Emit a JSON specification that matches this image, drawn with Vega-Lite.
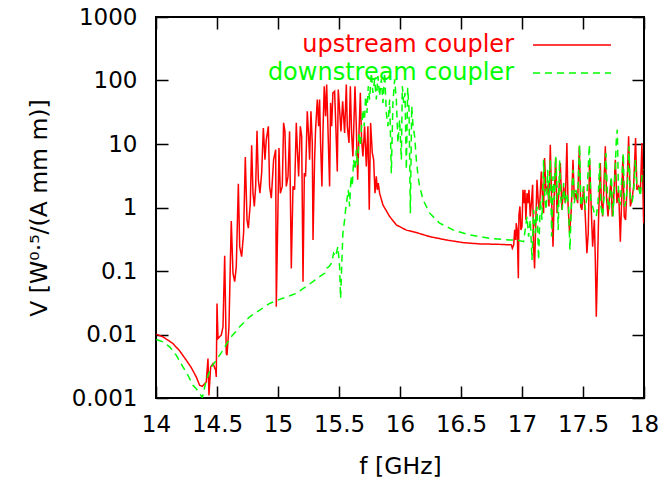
{
  "$schema": "https://vega.github.io/schema/vega-lite/v6.json",
  "width": 488,
  "height": 381,
  "autosize": "none",
  "padding": {"left": 156, "top": 17, "right": 24, "bottom": 85},
  "config": {
    "view": {"stroke": "black", "strokeWidth": 2},
    "axis": {"domain": false, "ticks": false, "tickSize": 0, "grid": true, "gridColor": "black", "gridOpacity": 1, "gridWidth": 1.5, "labelFont": "DejaVu Sans", "labelFontSize": 23, "labelColor": "black", "titleFont": "DejaVu Sans", "titleFontSize": 23.5, "titleFontWeight": "normal", "titleColor": "black", "labelOverlap": false, "labelFlush": false, "labelBound": false}
  },
  "data": {
    "values": [
      {"f":14.003,"V":0.0101,"s":"upstream coupler"},{"f":14.057,"V":0.00918,"s":"upstream coupler"},{"f":14.139,"V":0.00721,"s":"upstream coupler"},{"f":14.194,"V":0.00552,"s":"upstream coupler"},{"f":14.248,"V":0.00394,"s":"upstream coupler"},{"f":14.289,"V":0.00301,"s":"upstream coupler"},{"f":14.330,"V":0.00215,"s":"upstream coupler"},{"f":14.358,"V":0.00158,"s":"upstream coupler"},{"f":14.380,"V":0.00153,"s":"upstream coupler"},{"f":14.412,"V":0.00179,"s":"upstream coupler"},{"f":14.426,"V":0.00418,"s":"upstream coupler"},{"f":14.434,"V":0.0011,"s":"upstream coupler"},{"f":14.448,"V":0.00308,"s":"upstream coupler"},{"f":14.467,"V":0.00348,"s":"upstream coupler"},{"f":14.489,"V":0.00274,"s":"upstream coupler"},{"f":14.494,"V":0.00215,"s":"upstream coupler"},{"f":14.500,"V":0.0308,"s":"upstream coupler"},{"f":14.508,"V":0.00865,"s":"upstream coupler"},{"f":14.535,"V":0.00976,"s":"upstream coupler"},{"f":14.549,"V":0.0132,"s":"upstream coupler"},{"f":14.563,"V":0.173,"s":"upstream coupler"},{"f":14.576,"V":0.00501,"s":"upstream coupler"},{"f":14.582,"V":0.00472,"s":"upstream coupler"},{"f":14.598,"V":0.0132,"s":"upstream coupler"},{"f":14.617,"V":0.615,"s":"upstream coupler"},{"f":14.631,"V":0.0918,"s":"upstream coupler"},{"f":14.645,"V":0.0679,"s":"upstream coupler"},{"f":14.658,"V":0.117,"s":"upstream coupler"},{"f":14.675,"V":2.36,"s":"upstream coupler"},{"f":14.686,"V":0.242,"s":"upstream coupler"},{"f":14.702,"V":0.168,"s":"upstream coupler"},{"f":14.718,"V":0.394,"s":"upstream coupler"},{"f":14.732,"V":6.24,"s":"upstream coupler"},{"f":14.746,"V":0.639,"s":"upstream coupler"},{"f":14.757,"V":0.472,"s":"upstream coupler"},{"f":14.773,"V":1.17,"s":"upstream coupler"},{"f":14.784,"V":9.53,"s":"upstream coupler"},{"f":14.795,"V":1.68,"s":"upstream coupler"},{"f":14.806,"V":1.04,"s":"upstream coupler"},{"f":14.817,"V":2.15,"s":"upstream coupler"},{"f":14.828,"V":16.2,"s":"upstream coupler"},{"f":14.839,"V":2.73,"s":"upstream coupler"},{"f":14.852,"V":1.68,"s":"upstream coupler"},{"f":14.866,"V":3.48,"s":"upstream coupler"},{"f":14.880,"V":17.9,"s":"upstream coupler"},{"f":14.893,"V":5.66,"s":"upstream coupler"},{"f":14.904,"V":11.7,"s":"upstream coupler"},{"f":14.921,"V":19.0,"s":"upstream coupler"},{"f":14.931,"V":2.15,"s":"upstream coupler"},{"f":14.945,"V":1.40,"s":"upstream coupler"},{"f":14.964,"V":5.66,"s":"upstream coupler"},{"f":14.981,"V":8.14,"s":"upstream coupler"},{"f":14.986,"V":0.0274,"s":"upstream coupler"},
      {"f":15.008,"V":8.65,"s":"upstream coupler"},{"f":15.019,"V":1.68,"s":"upstream coupler"},{"f":15.035,"V":2.15,"s":"upstream coupler"},{"f":15.046,"V":21.5,"s":"upstream coupler"},{"f":15.057,"V":15.8,"s":"upstream coupler"},{"f":15.068,"V":2.15,"s":"upstream coupler"},{"f":15.082,"V":3.09,"s":"upstream coupler"},{"f":15.095,"V":15.8,"s":"upstream coupler"},{"f":15.109,"V":0.110,"s":"upstream coupler"},{"f":15.123,"V":2.15,"s":"upstream coupler"},{"f":15.136,"V":1.90,"s":"upstream coupler"},{"f":15.150,"V":21.5,"s":"upstream coupler"},{"f":15.158,"V":8.65,"s":"upstream coupler"},{"f":15.169,"V":3.09,"s":"upstream coupler"},{"f":15.183,"V":19.0,"s":"upstream coupler"},{"f":15.194,"V":13.2,"s":"upstream coupler"},{"f":15.205,"V":0.0679,"s":"upstream coupler"},{"f":15.216,"V":3.48,"s":"upstream coupler"},{"f":15.226,"V":3.09,"s":"upstream coupler"},{"f":15.240,"V":32.8,"s":"upstream coupler"},{"f":15.251,"V":13.2,"s":"upstream coupler"},{"f":15.259,"V":5.66,"s":"upstream coupler"},{"f":15.270,"V":32.8,"s":"upstream coupler"},{"f":15.281,"V":10.4,"s":"upstream coupler"},{"f":15.287,"V":0.308,"s":"upstream coupler"},{"f":15.300,"V":5.66,"s":"upstream coupler"},{"f":15.308,"V":16.8,"s":"upstream coupler"},{"f":15.322,"V":50.1,"s":"upstream coupler"},{"f":15.333,"V":19.0,"s":"upstream coupler"},{"f":15.341,"V":50.1,"s":"upstream coupler"},{"f":15.349,"V":10.4,"s":"upstream coupler"},{"f":15.360,"V":2.15,"s":"upstream coupler"},{"f":15.369,"V":16.8,"s":"upstream coupler"},{"f":15.379,"V":81.4,"s":"upstream coupler"},{"f":15.390,"V":27.4,"s":"upstream coupler"},{"f":15.399,"V":86.5,"s":"upstream coupler"},{"f":15.409,"V":19.0,"s":"upstream coupler"},{"f":15.423,"V":2.15,"s":"upstream coupler"},{"f":15.431,"V":44.4,"s":"upstream coupler"},{"f":15.440,"V":19.0,"s":"upstream coupler"},{"f":15.450,"V":63.8,"s":"upstream coupler"},{"f":15.464,"V":67.9,"s":"upstream coupler"},{"f":15.475,"V":16.8,"s":"upstream coupler"},{"f":15.486,"V":3.70,"s":"upstream coupler"},{"f":15.494,"V":72.1,"s":"upstream coupler"},{"f":15.505,"V":34.8,"s":"upstream coupler"},{"f":15.516,"V":15.8,"s":"upstream coupler"},{"f":15.530,"V":47.2,"s":"upstream coupler"},{"f":15.546,"V":14.9,"s":"upstream coupler"},{"f":15.560,"V":86.5,"s":"upstream coupler"},{"f":15.568,"V":19.0,"s":"upstream coupler"},{"f":15.582,"V":10.4,"s":"upstream coupler"},{"f":15.593,"V":81.4,"s":"upstream coupler"},{"f":15.603,"V":14.9,"s":"upstream coupler"},{"f":15.614,"V":6.38,"s":"upstream coupler"},{"f":15.631,"V":81.4,"s":"upstream coupler"},{"f":15.642,"V":19.0,"s":"upstream coupler"},{"f":15.653,"V":2.73,"s":"upstream coupler"},{"f":15.664,"V":14.9,"s":"upstream coupler"},{"f":15.675,"V":63.8,"s":"upstream coupler"},{"f":15.685,"V":11.7,"s":"upstream coupler"},{"f":15.696,"V":6.38,"s":"upstream coupler"},{"f":15.710,"V":19.0,"s":"upstream coupler"},{"f":15.724,"V":4.44,"s":"upstream coupler"},{"f":15.737,"V":19.0,"s":"upstream coupler"},{"f":15.748,"V":0.919,"s":"upstream coupler"},{"f":15.759,"V":21.5,"s":"upstream coupler"},{"f":15.773,"V":7.21,"s":"upstream coupler"},{"f":15.784,"V":5.66,"s":"upstream coupler"},{"f":15.795,"V":1.68,"s":"upstream coupler"},{"f":15.806,"V":3.09,"s":"upstream coupler"},{"f":15.814,"V":1.90,"s":"upstream coupler"},{"f":15.822,"V":2.42,"s":"upstream coupler"},{"f":15.833,"V":1.68,"s":"upstream coupler"},{"f":15.860,"V":1.10,"s":"upstream coupler"},{"f":15.915,"V":0.721,"s":"upstream coupler"},{"f":15.970,"V":0.532,"s":"upstream coupler"},{"f":16.052,"V":0.44,"s":"upstream coupler"},{"f":16.134,"V":0.403,"s":"upstream coupler"},{"f":16.243,"V":0.348,"s":"upstream coupler"},{"f":16.380,"V":0.308,"s":"upstream coupler"},{"f":16.516,"V":0.280,"s":"upstream coupler"},{"f":16.653,"V":0.267,"s":"upstream coupler"},{"f":16.790,"V":0.264,"s":"upstream coupler"},{"f":16.913,"V":0.258,"s":"upstream coupler"},{"f":16.921,"V":0.228,"s":"upstream coupler"},{"f":16.932,"V":0.258,"s":"upstream coupler"},{"f":16.940,"V":0.444,"s":"upstream coupler"},{"f":16.948,"V":0.308,"s":"upstream coupler"},{"f":16.953,"V":0.566,"s":"upstream coupler"},{"f":16.961,"V":0.444,"s":"upstream coupler"},{"f":16.970,"V":0.0766,"s":"upstream coupler"},{"f":16.975,"V":0.766,"s":"upstream coupler"},{"f":16.983,"V":1.04,"s":"upstream coupler"},{"f":16.991,"V":0.444,"s":"upstream coupler"},{"f":17.000,"V":0.501,"s":"upstream coupler"},{"f":17.008,"V":1.90,"s":"upstream coupler"},{"f":17.016,"V":1.17,"s":"upstream coupler"},{"f":17.024,"V":1.90,"s":"upstream coupler"},{"f":17.032,"V":0.639,"s":"upstream coupler"},{"f":17.041,"V":1.68,"s":"upstream coupler"},{"f":17.049,"V":1.17,"s":"upstream coupler"},{"f":17.057,"V":1.90,"s":"upstream coupler"},{"f":17.068,"V":0.721,"s":"upstream coupler"},{"f":17.079,"V":1.32,"s":"upstream coupler"},{"f":17.087,"V":2.28,"s":"upstream coupler"},{"f":17.095,"V":0.242,"s":"upstream coupler"},{"f":17.103,"V":0.110,"s":"upstream coupler"},{"f":17.112,"V":0.501,"s":"upstream coupler"},{"f":17.123,"V":2.73,"s":"upstream coupler"},{"f":17.134,"V":1.17,"s":"upstream coupler"},{"f":17.142,"V":0.919,"s":"upstream coupler"},{"f":17.150,"V":1.68,"s":"upstream coupler"},{"f":17.158,"V":3.70,"s":"upstream coupler"},{"f":17.169,"V":1.32,"s":"upstream coupler"},{"f":17.177,"V":0.814,"s":"upstream coupler"},{"f":17.185,"V":6.01,"s":"upstream coupler"},{"f":17.196,"V":1.90,"s":"upstream coupler"},{"f":17.210,"V":2.15,"s":"upstream coupler"},{"f":17.221,"V":1.04,"s":"upstream coupler"},{"f":17.232,"V":9.76,"s":"upstream coupler"},{"f":17.243,"V":1.32,"s":"upstream coupler"},{"f":17.254,"V":0.242,"s":"upstream coupler"},{"f":17.265,"V":1.68,"s":"upstream coupler"},{"f":17.276,"V":6.01,"s":"upstream coupler"},{"f":17.287,"V":0.814,"s":"upstream coupler"},{"f":17.300,"V":1.49,"s":"upstream coupler"},{"f":17.314,"V":5.01,"s":"upstream coupler"},{"f":17.327,"V":0.919,"s":"upstream coupler"},{"f":17.341,"V":2.15,"s":"upstream coupler"},{"f":17.355,"V":1.17,"s":"upstream coupler"},{"f":17.368,"V":10.4,"s":"upstream coupler"},{"f":17.377,"V":1.17,"s":"upstream coupler"},{"f":17.390,"V":0.394,"s":"upstream coupler"},{"f":17.404,"V":0.919,"s":"upstream coupler"},{"f":17.418,"V":5.66,"s":"upstream coupler"},{"f":17.429,"V":1.32,"s":"upstream coupler"},{"f":17.442,"V":1.68,"s":"upstream coupler"},{"f":17.456,"V":1.17,"s":"upstream coupler"},{"f":17.470,"V":9.19,"s":"upstream coupler"},{"f":17.481,"V":1.04,"s":"upstream coupler"},{"f":17.491,"V":0.919,"s":"upstream coupler"},{"f":17.505,"V":2.15,"s":"upstream coupler"},{"f":17.519,"V":0.721,"s":"upstream coupler"},{"f":17.532,"V":0.190,"s":"upstream coupler"},{"f":17.543,"V":0.394,"s":"upstream coupler"},{"f":17.554,"V":5.66,"s":"upstream coupler"},{"f":17.568,"V":0.919,"s":"upstream coupler"},{"f":17.579,"V":0.242,"s":"upstream coupler"},{"f":17.593,"V":0.639,"s":"upstream coupler"},{"f":17.601,"V":0.149,"s":"upstream coupler"},{"f":17.609,"V":0.0190,"s":"upstream coupler"},{"f":17.620,"V":0.149,"s":"upstream coupler"},{"f":17.628,"V":0.721,"s":"upstream coupler"},{"f":17.642,"V":5.01,"s":"upstream coupler"},{"f":17.650,"V":1.32,"s":"upstream coupler"},{"f":17.661,"V":0.721,"s":"upstream coupler"},{"f":17.669,"V":1.68,"s":"upstream coupler"},{"f":17.683,"V":9.19,"s":"upstream coupler"},{"f":17.694,"V":1.32,"s":"upstream coupler"},{"f":17.705,"V":0.721,"s":"upstream coupler"},{"f":17.715,"V":1.32,"s":"upstream coupler"},{"f":17.729,"V":2.73,"s":"upstream coupler"},{"f":17.740,"V":0.721,"s":"upstream coupler"},{"f":17.751,"V":1.32,"s":"upstream coupler"},{"f":17.765,"V":5.66,"s":"upstream coupler"},{"f":17.778,"V":1.17,"s":"upstream coupler"},{"f":17.792,"V":1.90,"s":"upstream coupler"},{"f":17.806,"V":0.290,"s":"upstream coupler"},{"f":17.817,"V":1.32,"s":"upstream coupler"},{"f":17.827,"V":6.38,"s":"upstream coupler"},{"f":17.838,"V":0.721,"s":"upstream coupler"},{"f":17.849,"V":0.639,"s":"upstream coupler"},{"f":17.860,"V":1.90,"s":"upstream coupler"},{"f":17.874,"V":13.2,"s":"upstream coupler"},{"f":17.888,"V":1.04,"s":"upstream coupler"},{"f":17.901,"V":1.32,"s":"upstream coupler"},{"f":17.915,"V":2.15,"s":"upstream coupler"},{"f":17.931,"V":12.4,"s":"upstream coupler"},{"f":17.942,"V":1.90,"s":"upstream coupler"},{"f":17.956,"V":2.15,"s":"upstream coupler"},{"f":17.970,"V":1.68,"s":"upstream coupler"},{"f":17.983,"V":10.4,"s":"upstream coupler"},{"f":17.997,"V":0.566,"s":"upstream coupler"},
      {"f":14.003,"V":0.00834,"s":"downstream coupler"},{"f":14.057,"V":0.00766,"s":"downstream coupler"},{"f":14.112,"V":0.00638,"s":"downstream coupler"},{"f":14.166,"V":0.00472,"s":"downstream coupler"},{"f":14.221,"V":0.00308,"s":"downstream coupler"},{"f":14.262,"V":0.00228,"s":"downstream coupler"},{"f":14.303,"V":0.00158,"s":"downstream coupler"},{"f":14.330,"V":0.0014,"s":"downstream coupler"},{"f":14.358,"V":0.00117,"s":"downstream coupler"},{"f":14.380,"V":0.00102,"s":"downstream coupler"},{"f":14.412,"V":0.0019,"s":"downstream coupler"},{"f":14.453,"V":0.00308,"s":"downstream coupler"},{"f":14.494,"V":0.00394,"s":"downstream coupler"},{"f":14.549,"V":0.00566,"s":"downstream coupler"},{"f":14.604,"V":0.00865,"s":"downstream coupler"},{"f":14.686,"V":0.0132,"s":"downstream coupler"},{"f":14.768,"V":0.0190,"s":"downstream coupler"},{"f":14.850,"V":0.0242,"s":"downstream coupler"},{"f":14.931,"V":0.0308,"s":"downstream coupler"},{"f":15.013,"V":0.0357,"s":"downstream coupler"},{"f":15.150,"V":0.0444,"s":"downstream coupler"},{"f":15.259,"V":0.0623,"s":"downstream coupler"},{"f":15.341,"V":0.0814,"s":"downstream coupler"},{"f":15.382,"V":0.0918,"s":"downstream coupler"},{"f":15.396,"V":0.110,"s":"downstream coupler"},{"f":15.418,"V":0.117,"s":"downstream coupler"},{"f":15.437,"V":0.132,"s":"downstream coupler"},{"f":15.456,"V":0.190,"s":"downstream coupler"},{"f":15.472,"V":0.168,"s":"downstream coupler"},{"f":15.491,"V":0.242,"s":"downstream coupler"},{"f":15.505,"V":0.117,"s":"downstream coupler"},{"f":15.513,"V":0.0370,"s":"downstream coupler"},{"f":15.524,"V":0.149,"s":"downstream coupler"},{"f":15.532,"V":0.394,"s":"downstream coupler"},{"f":15.546,"V":0.639,"s":"downstream coupler"},{"f":15.554,"V":0.919,"s":"downstream coupler"},{"f":15.565,"V":1.32,"s":"downstream coupler"},{"f":15.576,"V":1.90,"s":"downstream coupler"},{"f":15.587,"V":1.04,"s":"downstream coupler"},{"f":15.598,"V":3.09,"s":"downstream coupler"},{"f":15.609,"V":2.15,"s":"downstream coupler"},{"f":15.620,"V":5.66,"s":"downstream coupler"},{"f":15.631,"V":3.93,"s":"downstream coupler"},{"f":15.642,"V":8.14,"s":"downstream coupler"},{"f":15.653,"V":4.44,"s":"downstream coupler"},{"f":15.664,"V":14.9,"s":"downstream coupler"},{"f":15.675,"V":9.19,"s":"downstream coupler"},{"f":15.685,"V":19.0,"s":"downstream coupler"},{"f":15.696,"V":34.8,"s":"downstream coupler"},{"f":15.707,"V":19.0,"s":"downstream coupler"},{"f":15.718,"V":56.6,"s":"downstream coupler"},{"f":15.729,"V":30.9,"s":"downstream coupler"},{"f":15.740,"V":81.4,"s":"downstream coupler"},{"f":15.751,"V":50.1,"s":"downstream coupler"},{"f":15.765,"V":132,"s":"downstream coupler"},{"f":15.778,"V":63.8,"s":"downstream coupler"},{"f":15.792,"V":104,"s":"downstream coupler"},{"f":15.806,"V":50.1,"s":"downstream coupler"},{"f":15.819,"V":117,"s":"downstream coupler"},{"f":15.833,"V":56.6,"s":"downstream coupler"},{"f":15.847,"V":104,"s":"downstream coupler"},{"f":15.860,"V":44.4,"s":"downstream coupler"},{"f":15.874,"V":132,"s":"downstream coupler"},{"f":15.888,"V":30.9,"s":"downstream coupler"},{"f":15.901,"V":19.0,"s":"downstream coupler"},{"f":15.915,"V":50.1,"s":"downstream coupler"},{"f":15.929,"V":3.48,"s":"downstream coupler"},{"f":15.942,"V":44.4,"s":"downstream coupler"},{"f":15.956,"V":104,"s":"downstream coupler"},{"f":15.970,"V":50.1,"s":"downstream coupler"},{"f":15.983,"V":10.4,"s":"downstream coupler"},{"f":15.997,"V":24.2,"s":"downstream coupler"},{"f":16.011,"V":5.66,"s":"downstream coupler"},{"f":16.019,"V":81.4,"s":"downstream coupler"},{"f":16.030,"V":44.4,"s":"downstream coupler"},{"f":16.041,"V":63.8,"s":"downstream coupler"},{"f":16.052,"V":3.93,"s":"downstream coupler"},{"f":16.063,"V":76.6,"s":"downstream coupler"},{"f":16.074,"V":34.8,"s":"downstream coupler"},{"f":16.085,"V":0.814,"s":"downstream coupler"},{"f":16.096,"V":39.4,"s":"downstream coupler"},{"f":16.107,"V":19.0,"s":"downstream coupler"},{"f":16.120,"V":13.2,"s":"downstream coupler"},{"f":16.134,"V":5.66,"s":"downstream coupler"},{"f":16.148,"V":3.09,"s":"downstream coupler"},{"f":16.161,"V":2.15,"s":"downstream coupler"},{"f":16.189,"V":1.32,"s":"downstream coupler"},{"f":16.243,"V":0.814,"s":"downstream coupler"},{"f":16.325,"V":0.566,"s":"downstream coupler"},{"f":16.434,"V":0.444,"s":"downstream coupler"},{"f":16.571,"V":0.370,"s":"downstream coupler"},{"f":16.735,"V":0.328,"s":"downstream coupler"},{"f":16.899,"V":0.308,"s":"downstream coupler"},{"f":16.959,"V":0.308,"s":"downstream coupler"},{"f":17.013,"V":0.290,"s":"downstream coupler"},{"f":17.041,"V":0.721,"s":"downstream coupler"},{"f":17.054,"V":0.348,"s":"downstream coupler"},{"f":17.068,"V":0.639,"s":"downstream coupler"},{"f":17.082,"V":0.149,"s":"downstream coupler"},{"f":17.095,"V":0.919,"s":"downstream coupler"},{"f":17.109,"V":0.394,"s":"downstream coupler"},{"f":17.123,"V":1.04,"s":"downstream coupler"},{"f":17.136,"V":0.149,"s":"downstream coupler"},{"f":17.150,"V":1.32,"s":"downstream coupler"},{"f":17.164,"V":0.639,"s":"downstream coupler"},{"f":17.177,"V":5.66,"s":"downstream coupler"},{"f":17.188,"V":1.32,"s":"downstream coupler"},{"f":17.199,"V":0.919,"s":"downstream coupler"},{"f":17.210,"V":3.93,"s":"downstream coupler"},{"f":17.221,"V":1.32,"s":"downstream coupler"},{"f":17.232,"V":5.66,"s":"downstream coupler"},{"f":17.243,"V":0.348,"s":"downstream coupler"},{"f":17.254,"V":3.09,"s":"downstream coupler"},{"f":17.265,"V":1.32,"s":"downstream coupler"},{"f":17.276,"V":6.38,"s":"downstream coupler"},{"f":17.287,"V":2.15,"s":"downstream coupler"},{"f":17.297,"V":0.444,"s":"downstream coupler"},{"f":17.308,"V":5.66,"s":"downstream coupler"},{"f":17.319,"V":1.32,"s":"downstream coupler"},{"f":17.330,"V":0.919,"s":"downstream coupler"},{"f":17.341,"V":2.42,"s":"downstream coupler"},{"f":17.355,"V":1.17,"s":"downstream coupler"},{"f":17.368,"V":1.68,"s":"downstream coupler"},{"f":17.382,"V":1.04,"s":"downstream coupler"},{"f":17.393,"V":0.215,"s":"downstream coupler"},{"f":17.404,"V":1.04,"s":"downstream coupler"},{"f":17.418,"V":3.93,"s":"downstream coupler"},{"f":17.429,"V":1.17,"s":"downstream coupler"},{"f":17.442,"V":1.90,"s":"downstream coupler"},{"f":17.456,"V":1.32,"s":"downstream coupler"},{"f":17.472,"V":9.76,"s":"downstream coupler"},{"f":17.483,"V":1.04,"s":"downstream coupler"},{"f":17.494,"V":1.32,"s":"downstream coupler"},{"f":17.505,"V":2.15,"s":"downstream coupler"},{"f":17.519,"V":0.919,"s":"downstream coupler"},{"f":17.532,"V":1.49,"s":"downstream coupler"},{"f":17.552,"V":9.76,"s":"downstream coupler"},{"f":17.565,"V":1.17,"s":"downstream coupler"},{"f":17.579,"V":1.04,"s":"downstream coupler"},{"f":17.593,"V":0.814,"s":"downstream coupler"},{"f":17.609,"V":0.721,"s":"downstream coupler"},{"f":17.623,"V":1.17,"s":"downstream coupler"},{"f":17.636,"V":5.01,"s":"downstream coupler"},{"f":17.647,"V":1.04,"s":"downstream coupler"},{"f":17.661,"V":0.721,"s":"downstream coupler"},{"f":17.675,"V":1.68,"s":"downstream coupler"},{"f":17.688,"V":7.21,"s":"downstream coupler"},{"f":17.702,"V":1.32,"s":"downstream coupler"},{"f":17.715,"V":0.919,"s":"downstream coupler"},{"f":17.732,"V":3.09,"s":"downstream coupler"},{"f":17.746,"V":0.721,"s":"downstream coupler"},{"f":17.759,"V":2.15,"s":"downstream coupler"},{"f":17.773,"V":11.7,"s":"downstream coupler"},{"f":17.781,"V":16.8,"s":"downstream coupler"},{"f":17.792,"V":1.32,"s":"downstream coupler"},{"f":17.806,"V":1.17,"s":"downstream coupler"},{"f":17.819,"V":3.09,"s":"downstream coupler"},{"f":17.830,"V":7.21,"s":"downstream coupler"},{"f":17.841,"V":1.04,"s":"downstream coupler"},{"f":17.855,"V":1.32,"s":"downstream coupler"},{"f":17.866,"V":2.73,"s":"downstream coupler"},{"f":17.877,"V":9.19,"s":"downstream coupler"},{"f":17.888,"V":1.32,"s":"downstream coupler"},{"f":17.901,"V":1.17,"s":"downstream coupler"},{"f":17.915,"V":1.68,"s":"downstream coupler"},{"f":17.929,"V":5.66,"s":"downstream coupler"},{"f":17.942,"V":2.15,"s":"downstream coupler"},{"f":17.956,"V":2.15,"s":"downstream coupler"},{"f":17.970,"V":1.49,"s":"downstream coupler"},{"f":17.983,"V":3.09,"s":"downstream coupler"},{"f":17.997,"V":3.93,"s":"downstream coupler"}
    ]
  },
  "mark": {"type": "line", "strokeWidth": 1.5, "clip": true},
  "encoding": {
    "x": {"field": "f", "type": "quantitative", "scale": {"domain": [14, 18], "nice": false, "zero": false},
          "axis": {"values": [14, 14.5, 15, 15.5, 16, 16.5, 17, 17.5, 18], "format": "~g", "gridDash": [12, 357, 12, 200], "labelPadding": 15, "title": "f [GHz]", "titlePadding": 18}},
    "y": {"field": "V", "type": "quantitative", "scale": {"type": "log", "domain": [0.001, 1000], "nice": false},
          "axis": {"values": [0.001, 0.01, 0.1, 1, 10, 100, 1000], "format": "~g", "gridDash": [12, 464, 12, 200],
                   "labelPadding": 19, "title": "V [W⁰·⁵/(A mm m)]", "titlePadding": 20}},
    "color": {"field": "s", "type": "nominal", "scale": {"domain": ["upstream coupler", "downstream coupler"], "range": ["#ff0000", "#00ff00"]},
              "legend": {"title": null, "orient": "none", "legendX": 404, "legendY": 16, "symbolType": "M-3.9,0H3.9", "symbolSize": 400, "symbolStrokeWidth": 1.5, "labelFont": "DejaVu Sans", "labelFontSize": 24, "labelAlign": "right", "labelOffset": -70, "labelLimit": 400, "rowPadding": 4, "labelColor": {"expr": "datum.value === 'upstream coupler' ? '#ff0000' : '#00ff00'"}}},
    "strokeDash": {"field": "s", "type": "nominal", "scale": {"domain": ["upstream coupler", "downstream coupler"], "range": [[1, 0], [7, 5]]},
              "legend": {"title": null, "orient": "none", "legendX": 404, "legendY": 16, "symbolType": "M-3.9,0H3.9", "symbolSize": 400, "symbolStrokeWidth": 1.5, "labelFont": "DejaVu Sans", "labelFontSize": 24, "labelAlign": "right", "labelOffset": -70, "labelLimit": 400, "rowPadding": 4, "labelColor": {"expr": "datum.value === 'upstream coupler' ? '#ff0000' : '#00ff00'"}}}
  }
}
